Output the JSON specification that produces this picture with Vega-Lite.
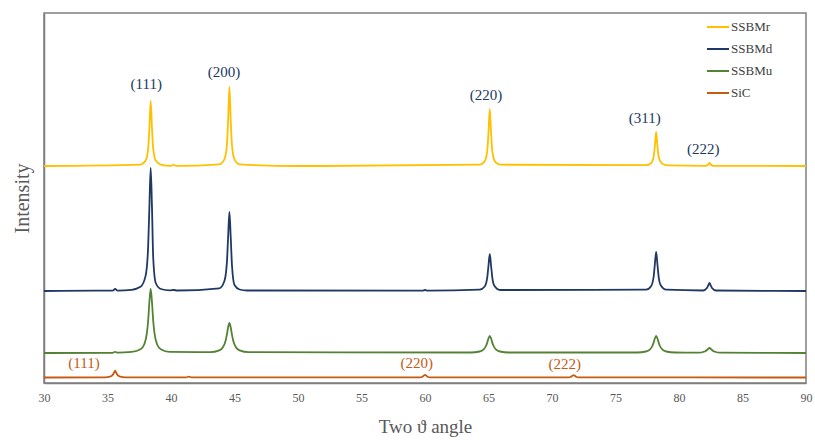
{
  "$schema": "https://vega.github.io/schema/vega-lite/v6.json",
  "width": 762,
  "height": 370,
  "autosize": "none",
  "padding": {"left": 44, "top": 13, "right": 9, "bottom": 58},
  "background": "white",
  "config": {
    "view": {"stroke": "#7f7f7f", "strokeWidth": 1.5},
    "font": "Liberation Serif"
  },
  "datasets": {
    "xrd": [
      {"s":"SSBMr","x":30,"y":217},{"s":"SSBMr","x":37.6,"y":218.4},{"s":"SSBMr","x":38.0,"y":222.4},{"s":"SSBMr","x":38.2,"y":234.2},{"s":"SSBMr","x":38.3,"y":255.4},{"s":"SSBMr","x":38.4,"y":282},{"s":"SSBMr","x":38.5,"y":255.4},{"s":"SSBMr","x":38.6,"y":234.2},{"s":"SSBMr","x":38.8,"y":222.4},{"s":"SSBMr","x":39.2,"y":218.4},{"s":"SSBMr","x":40.0,"y":217.2},{"s":"SSBMr","x":40.2,"y":218.2},{"s":"SSBMr","x":40.4,"y":217.2},{"s":"SSBMr","x":43.8,"y":218.7},{"s":"SSBMr","x":44.2,"y":223.6},{"s":"SSBMr","x":44.4,"y":237.9},{"s":"SSBMr","x":44.5,"y":263.6},{"s":"SSBMr","x":44.6,"y":296},{"s":"SSBMr","x":44.7,"y":263.6},{"s":"SSBMr","x":44.8,"y":237.9},{"s":"SSBMr","x":45.0,"y":223.6},{"s":"SSBMr","x":45.4,"y":218.7},{"s":"SSBMr","x":50,"y":217},{"s":"SSBMr","x":64.3,"y":218.3},{"s":"SSBMr","x":64.7,"y":221.7},{"s":"SSBMr","x":64.9,"y":232.1},{"s":"SSBMr","x":65.0,"y":250.6},{"s":"SSBMr","x":65.1,"y":274},{"s":"SSBMr","x":65.2,"y":250.6},{"s":"SSBMr","x":65.3,"y":232.1},{"s":"SSBMr","x":65.5,"y":221.7},{"s":"SSBMr","x":65.9,"y":218.3},{"s":"SSBMr","x":77.4,"y":217.8},{"s":"SSBMr","x":77.8,"y":219.8},{"s":"SSBMr","x":78.0,"y":226},{"s":"SSBMr","x":78.1,"y":237},{"s":"SSBMr","x":78.2,"y":251},{"s":"SSBMr","x":78.3,"y":237},{"s":"SSBMr","x":78.4,"y":226},{"s":"SSBMr","x":78.55,"y":221.5},{"s":"SSBMr","x":78.8,"y":218.5},{"s":"SSBMr","x":79.2,"y":217.6},{"s":"SSBMr","x":82.1,"y":217.2},{"s":"SSBMr","x":82.3,"y":218.5},{"s":"SSBMr","x":82.4,"y":220},{"s":"SSBMr","x":82.5,"y":218.5},{"s":"SSBMr","x":82.7,"y":217.2},{"s":"SSBMr","x":90,"y":217},

      {"s":"SSBMd","x":30,"y":92},{"s":"SSBMd","x":34,"y":92.3},{"s":"SSBMd","x":35.4,"y":92.3},{"s":"SSBMd","x":35.6,"y":94},{"s":"SSBMd","x":35.8,"y":92.4},{"s":"SSBMd","x":36.9,"y":93.2},{"s":"SSBMd","x":37.6,"y":96.2},{"s":"SSBMd","x":38.0,"y":107.1},{"s":"SSBMd","x":38.2,"y":136.3},{"s":"SSBMd","x":38.3,"y":176.9},{"s":"SSBMd","x":38.4,"y":215},{"s":"SSBMd","x":38.5,"y":176.9},{"s":"SSBMd","x":38.6,"y":125},{"s":"SSBMd","x":38.8,"y":100},{"s":"SSBMd","x":39.2,"y":94},{"s":"SSBMd","x":39.9,"y":92.6},{"s":"SSBMd","x":40.2,"y":93},{"s":"SSBMd","x":40.5,"y":92.5},{"s":"SSBMd","x":43.8,"y":94.7},{"s":"SSBMd","x":44.2,"y":101.7},{"s":"SSBMd","x":44.4,"y":120.4},{"s":"SSBMd","x":44.5,"y":146.5},{"s":"SSBMd","x":44.6,"y":171},{"s":"SSBMd","x":44.7,"y":146.5},{"s":"SSBMd","x":44.8,"y":118},{"s":"SSBMd","x":45.0,"y":98},{"s":"SSBMd","x":45.4,"y":93.5},{"s":"SSBMd","x":46,"y":92.5},{"s":"SSBMd","x":59.8,"y":92.3},{"s":"SSBMd","x":60.0,"y":93},{"s":"SSBMd","x":60.2,"y":92.3},{"s":"SSBMd","x":64.3,"y":93.3},{"s":"SSBMd","x":64.7,"y":96.5},{"s":"SSBMd","x":64.9,"y":105.3},{"s":"SSBMd","x":65.0,"y":117.5},{"s":"SSBMd","x":65.1,"y":129},{"s":"SSBMd","x":65.2,"y":117.5},{"s":"SSBMd","x":65.3,"y":105.3},{"s":"SSBMd","x":65.45,"y":97.5},{"s":"SSBMd","x":65.9,"y":93},{"s":"SSBMd","x":77.4,"y":93.3},{"s":"SSBMd","x":77.8,"y":96.8},{"s":"SSBMd","x":78.0,"y":106},{"s":"SSBMd","x":78.1,"y":118.9},{"s":"SSBMd","x":78.2,"y":131},{"s":"SSBMd","x":78.3,"y":118.9},{"s":"SSBMd","x":78.4,"y":106},{"s":"SSBMd","x":78.55,"y":98},{"s":"SSBMd","x":79.0,"y":93.3},{"s":"SSBMd","x":81.9,"y":92.5},{"s":"SSBMd","x":82.2,"y":95},{"s":"SSBMd","x":82.3,"y":97.5},{"s":"SSBMd","x":82.4,"y":100},{"s":"SSBMd","x":82.5,"y":97.5},{"s":"SSBMd","x":82.6,"y":95},{"s":"SSBMd","x":82.9,"y":92.5},{"s":"SSBMd","x":90,"y":92},

      {"s":"SSBMu","x":30,"y":30},{"s":"SSBMu","x":35.4,"y":30.2},{"s":"SSBMu","x":35.6,"y":31.2},{"s":"SSBMu","x":35.8,"y":30.3},{"s":"SSBMu","x":36.9,"y":31.1},{"s":"SSBMu","x":37.6,"y":33.8},{"s":"SSBMu","x":37.9,"y":38.8},{"s":"SSBMu","x":38.1,"y":49.8},{"s":"SSBMu","x":38.2,"y":62},{"s":"SSBMu","x":38.3,"y":81.2},{"s":"SSBMu","x":38.4,"y":94},{"s":"SSBMu","x":38.5,"y":81.2},{"s":"SSBMu","x":38.6,"y":62},{"s":"SSBMu","x":38.7,"y":49.8},{"s":"SSBMu","x":38.9,"y":38.8},{"s":"SSBMu","x":39.2,"y":33.8},{"s":"SSBMu","x":39.9,"y":31.1},{"s":"SSBMu","x":43.1,"y":30.8},{"s":"SSBMu","x":43.8,"y":32.7},{"s":"SSBMu","x":44.1,"y":36},{"s":"SSBMu","x":44.3,"y":42.3},{"s":"SSBMu","x":44.4,"y":48.3},{"s":"SSBMu","x":44.5,"y":55.8},{"s":"SSBMu","x":44.6,"y":60},{"s":"SSBMu","x":44.7,"y":55.8},{"s":"SSBMu","x":44.8,"y":48.3},{"s":"SSBMu","x":44.9,"y":42.3},{"s":"SSBMu","x":45.1,"y":36},{"s":"SSBMu","x":45.4,"y":32.7},{"s":"SSBMu","x":46.1,"y":30.8},{"s":"SSBMu","x":63.6,"y":30.5},{"s":"SSBMu","x":64.3,"y":31.5},{"s":"SSBMu","x":64.6,"y":33.4},{"s":"SSBMu","x":64.8,"y":37},{"s":"SSBMu","x":64.9,"y":40.4},{"s":"SSBMu","x":65.0,"y":44.6},{"s":"SSBMu","x":65.1,"y":47},{"s":"SSBMu","x":65.2,"y":44.6},{"s":"SSBMu","x":65.3,"y":40.4},{"s":"SSBMu","x":65.4,"y":37},{"s":"SSBMu","x":65.6,"y":33.4},{"s":"SSBMu","x":65.9,"y":31.5},{"s":"SSBMu","x":66.6,"y":30.5},{"s":"SSBMu","x":76.7,"y":30.5},{"s":"SSBMu","x":77.4,"y":31.5},{"s":"SSBMu","x":77.7,"y":33.4},{"s":"SSBMu","x":77.9,"y":37},{"s":"SSBMu","x":78.0,"y":40.4},{"s":"SSBMu","x":78.1,"y":44.6},{"s":"SSBMu","x":78.2,"y":47},{"s":"SSBMu","x":78.3,"y":44.6},{"s":"SSBMu","x":78.4,"y":40.4},{"s":"SSBMu","x":78.5,"y":37},{"s":"SSBMu","x":78.7,"y":33.4},{"s":"SSBMu","x":79.0,"y":31.5},{"s":"SSBMu","x":79.7,"y":30.5},{"s":"SSBMu","x":81.6,"y":30.4},{"s":"SSBMu","x":81.9,"y":31},{"s":"SSBMu","x":82.1,"y":32},{"s":"SSBMu","x":82.25,"y":33.5},{"s":"SSBMu","x":82.4,"y":35},{"s":"SSBMu","x":82.55,"y":33.5},{"s":"SSBMu","x":82.7,"y":32},{"s":"SSBMu","x":82.9,"y":31},{"s":"SSBMu","x":83.2,"y":30.4},{"s":"SSBMu","x":90,"y":30},

      {"s":"SiC","x":30,"y":5.5},{"s":"SiC","x":34.8,"y":5.7},{"s":"SiC","x":35.2,"y":6.3},{"s":"SiC","x":35.4,"y":7.8},{"s":"SiC","x":35.5,"y":10},{"s":"SiC","x":35.6,"y":12.3},{"s":"SiC","x":35.7,"y":10},{"s":"SiC","x":35.8,"y":7.8},{"s":"SiC","x":36.0,"y":6.3},{"s":"SiC","x":36.4,"y":5.7},{"s":"SiC","x":41.2,"y":5.6},{"s":"SiC","x":41.4,"y":6.4},{"s":"SiC","x":41.6,"y":5.6},{"s":"SiC","x":59.6,"y":5.6},{"s":"SiC","x":59.8,"y":6.3},{"s":"SiC","x":59.9,"y":7.4},{"s":"SiC","x":60.0,"y":8.2},{"s":"SiC","x":60.1,"y":7.4},{"s":"SiC","x":60.2,"y":6.3},{"s":"SiC","x":60.4,"y":5.6},{"s":"SiC","x":71.3,"y":5.6},{"s":"SiC","x":71.5,"y":6.2},{"s":"SiC","x":71.6,"y":7.2},{"s":"SiC","x":71.7,"y":7.8},{"s":"SiC","x":71.8,"y":7.2},{"s":"SiC","x":71.9,"y":6.2},{"s":"SiC","x":72.1,"y":5.6},{"s":"SiC","x":90,"y":5.5}
    ],
    "labels": [
      {"t":"(111)","x":38.05,"y":299,"p":"Cu"},
      {"t":"(200)","x":44.17,"y":310.7,"p":"Cu"},
      {"t":"(220)","x":64.8,"y":288,"p":"Cu"},
      {"t":"(311)","x":77.3,"y":265,"p":"Cu"},
      {"t":"(222)","x":81.9,"y":234,"p":"Cu"},
      {"t":"(111)","x":33.15,"y":20.3,"p":"SiC"},
      {"t":"(220)","x":59.35,"y":20.3,"p":"SiC"},
      {"t":"(222)","x":71.0,"y":19,"p":"SiC"}
    ]
  },
  "layer": [
    {
      "data": {"name": "xrd"},
      "mark": {"type": "line", "strokeWidth": 1.8, "interpolate": "monotone"},
      "encoding": {
        "x": {
          "field": "x", "type": "quantitative",
          "scale": {"domain": [30, 90], "nice": false, "zero": false},
          "axis": {
            "title": "Two ϑ angle",
            "values": [30, 35, 40, 45, 50, 55, 60, 65, 70, 75, 80, 85, 90],
            "grid": false, "ticks": false, "labelFlush": false,
            "domainColor": "#7f7f7f", "domainWidth": 1.5,
            "labelFont": "Liberation Serif", "labelFontSize": 12, "labelColor": "#595959", "labelPadding": 9,
            "titleFont": "Liberation Serif", "titleFontSize": 19, "titleFontWeight": "normal", "titleColor": "#595959", "titlePadding": 14
          }
        },
        "y": {
          "field": "y", "type": "quantitative",
          "scale": {"domain": [0, 370], "nice": false},
          "axis": {
            "title": "Intensity",
            "labels": false, "ticks": false, "grid": false,
            "domainColor": "#7f7f7f", "domainWidth": 1.5,
            "titleFont": "Liberation Serif", "titleFontSize": 20, "titleFontWeight": "normal", "titleColor": "#595959", "titlePadding": 12
          }
        },
        "color": {
          "field": "s", "type": "nominal",
          "scale": {"domain": ["SSBMr", "SSBMd", "SSBMu", "SiC"], "range": ["#FFC000", "#203864", "#548235", "#C55A11"]},
          "legend": {
            "title": null,
            "orient": "none", "legendX": 662, "legendY": 2,
            "symbolType": "stroke", "symbolSize": 484, "symbolStrokeWidth": 2,
            "labelFont": "Liberation Serif", "labelFontSize": 13, "labelColor": "#404040",
            "labelOffset": 1, "rowPadding": 3
          }
        }
      }
    },
    {
      "data": {"name": "labels"},
      "mark": {"type": "text", "font": "Liberation Serif", "fontSize": 15, "align": "center", "baseline": "middle"},
      "encoding": {
        "x": {"field": "x", "type": "quantitative"},
        "y": {"field": "y", "type": "quantitative"},
        "text": {"field": "t"},
        "color": {"condition": {"test": "datum.p === 'SiC'", "value": "#C55A11"}, "value": "#203864"}
      }
    }
  ]
}
